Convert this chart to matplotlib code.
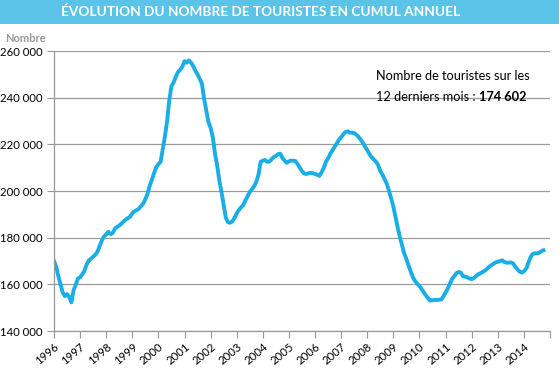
import numpy as np
import matplotlib
matplotlib.use('Agg')
import matplotlib.pyplot as plt
from matplotlib.ticker import FuncFormatter

# monthly cumulative values (thousands), Jan 1996 .. Oct 2014
v1996 = [170.0, 167.5, 163.5, 160.0, 156.5, 155.0, 155.8, 154.5, 152.3, 157.5, 159.8, 162.5]
v1997 = [163.0, 164.3, 165.8, 168.5, 170.2, 171.0, 171.8, 172.7, 174.0, 176.5, 178.8, 180.5]
v1998 = [181.4, 182.5, 181.5, 182.0, 183.9, 184.6, 185.2, 186.0, 187.0, 187.8, 188.4, 189.0]
v1999 = [190.5, 191.3, 191.8, 192.4, 193.5, 194.6, 196.5, 198.8, 202.3, 204.8, 207.7, 210.2]
v2000 = [211.5, 212.5, 218.0, 223.5, 230.0, 239.0, 245.0, 246.5, 249.0, 251.0, 252.0, 253.3]
v2001 = [255.7, 255.0, 256.0, 255.0, 253.5, 251.5, 250.0, 248.0, 246.0, 239.5, 234.5, 229.5]
v2002 = [227.0, 223.0, 216.0, 211.0, 204.5, 199.5, 194.0, 188.5, 186.6, 186.4, 187.0, 188.5]
v2003 = [190.4, 191.9, 193.0, 194.0, 196.0, 197.8, 199.6, 200.8, 202.0, 204.0, 207.0, 212.5]
v2004 = [213.0, 213.3, 212.5, 212.6, 213.6, 214.5, 215.0, 215.8, 216.0, 214.2, 213.0, 212.1]
v2005 = [212.7, 213.0, 213.0, 212.8, 211.5, 210.0, 208.5, 207.5, 207.3, 207.6, 207.8, 207.6]
v2006 = [207.3, 207.0, 206.5, 208.0, 209.9, 212.5, 214.0, 216.0, 217.4, 219.0, 220.4, 222.0]
v2007 = [223.0, 224.3, 225.3, 225.6, 225.0, 225.0, 224.8, 224.1, 223.2, 222.0, 220.6, 219.0]
v2008 = [217.5, 215.8, 214.5, 213.5, 212.5, 211.2, 208.5, 207.0, 205.0, 203.0, 200.0, 196.8]
v2009 = [193.3, 188.8, 184.3, 180.2, 176.6, 173.2, 170.8, 168.0, 165.4, 163.0, 161.4, 160.2]
v2010 = [159.3, 158.0, 156.5, 155.2, 154.0, 153.0, 153.2, 153.3, 153.3, 153.4, 153.5, 154.8]
v2011 = [156.5, 158.2, 160.3, 162.4, 163.5, 164.8, 165.3, 165.0, 163.5, 163.3, 163.0, 162.5]
v2012 = [162.2, 162.7, 163.5, 164.3, 164.7, 165.3, 165.8, 166.6, 167.5, 168.2, 168.8, 169.4]
v2013 = [169.6, 170.0, 170.3, 169.6, 169.3, 169.3, 169.4, 169.0, 167.6, 166.4, 165.5, 165.0]
v2014 = [165.6, 166.6, 169.0, 171.5, 173.0, 173.3, 173.3, 173.5, 174.2, 174.602]

values = np.array(v1996 + v1997 + v1998 + v1999 + v2000 + v2001 + v2002 + v2003 +
                  v2004 + v2005 + v2006 + v2007 + v2008 + v2009 + v2010 + v2011 +
                  v2012 + v2013 + v2014) * 1000
dates = 1996 + np.arange(len(values)) / 12.0
years = list(range(1996, 2015))
yticks = [140000, 160000, 180000, 200000, 220000, 240000, 260000]

plt.rcParams['font.family'] = ['Lato', 'DejaVu Sans']

fig = plt.figure(figsize=(5.59, 3.8), dpi=100)

# title banner
fig.patches.append(plt.Rectangle((0, 1 - 24/380), 1, 24/380, transform=fig.transFigure,
                                 facecolor='#5BC3E7', edgecolor='none'))
fig.text(261/559, 1 - 12/380, 'ÉVOLUTION DU NOMBRE DE TOURISTES EN CUMUL ANNUEL',
         color='white', fontsize=9.8, fontweight='bold', ha='center', va='center')

ax = fig.add_axes([54/559, 1 - 331/380, 496/559, 280/380])
ax.plot(dates, values, color='#1AAEE6', lw=2.8, solid_joinstyle='round')

ax.set_xlim(1996, 2015)
ax.set_ylim(140000, 260000)
ax.set_xticks(years + [2015])
ax.set_xticklabels([str(y) for y in years] + [''], rotation=40, ha='right',
                   rotation_mode='anchor', fontsize=8.2)
ax.set_yticks(yticks)
ax.yaxis.set_major_formatter(FuncFormatter(lambda v, p: '{:,}'.format(int(v)).replace(',', ' ')))
ax.tick_params(axis='y', labelsize=8.2, length=5, color='#999999', pad=3)
ax.tick_params(axis='x', length=5, color='#999999', pad=2)
ax.grid(axis='y', color='#9a9a9a', lw=0.9)
ax.set_axisbelow(True)
for s in ['top', 'right']:
    ax.spines[s].set_visible(False)
for s in ['left', 'bottom']:
    ax.spines[s].set_color('#999999')
    ax.spines[s].set_linewidth(0.9)

fig.text(25/559, 1 - 38/380, 'Nombre', color='#999999', fontsize=8,
         fontweight='bold', ha='center', va='center')

fig.text(376/559, 1 - 76/380, 'Nombre de touristes sur les', fontsize=9.2,
         va='center', ha='left')
t = fig.text(376/559, 1 - 97/380, '12 derniers mois : ', fontsize=9.2, va='center', ha='left')
fig.canvas.draw()
bb = t.get_window_extent()
fig.text(bb.x1 / fig.bbox.width, 1 - 97/380, '174 602', fontsize=9.2, fontweight='bold',
         va='center', ha='left')

fig.savefig('out.png', dpi=100)
